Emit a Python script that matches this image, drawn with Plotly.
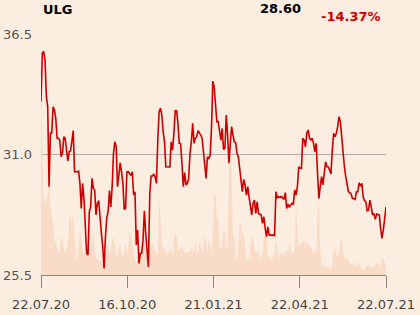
import plotly.graph_objects as go

# ---- data ----
ticker = "ULG"
last_price = "28.60"
change_pct = "-14.37%"

price = [
    33.41, 35.65, 35.69, 35.31, 33.64, 33.18, 29.53, 31.97, 31.97, 33.18,
    33.03, 32.65, 31.74, 31.74, 31.66, 30.90, 31.05, 31.81, 31.74, 31.20,
    30.71, 31.13, 31.16, 31.60, 32.09, 30.21, 30.20, 30.21, 30.24, 29.68,
    28.54, 29.68, 28.99, 27.55, 26.49, 26.41, 28.39, 28.61, 29.91, 29.45,
    29.38, 28.24, 28.77, 28.89, 27.86, 27.40, 26.79, 25.80, 27.25, 28.12,
    28.39, 29.35, 28.61, 29.53, 31.05, 31.58, 31.35, 29.53, 30.06, 30.62,
    30.21, 29.68, 28.49, 28.54,
    30.21, 30.21, 30.11, 30.06, 30.21, 29.15, 29.30, 26.87, 27.55, 26.03,
    26.49, 26.49, 27.09, 28.43, 27.40, 26.49, 25.87, 29.15, 30.02, 30.02,
    30.09, 29.99, 29.68, 31.66, 32.95, 33.11, 32.80, 32.04, 31.58, 30.44,
    30.44, 30.43, 30.43, 31.58, 31.20, 31.97, 33.00, 33.00, 32.42, 31.51,
    31.50, 30.60, 29.53, 30.17, 29.61, 29.68, 29.91, 31.05, 31.58, 32.42,
    31.51, 31.74, 31.81, 32.09, 32.00, 31.89, 31.74, 30.90, 30.52, 29.91,
    30.90, 30.82,
    30.95, 32.20, 34.35, 34.09, 33.18, 32.50, 32.50, 31.97, 31.66, 32.19,
    31.23, 31.28, 32.80, 31.89, 30.60, 31.51, 32.27, 31.89, 31.58, 31.54,
    31.05, 30.90, 30.37, 29.83, 29.30, 29.86, 29.61, 29.15, 29.53, 29.07,
    28.69, 28.24, 28.77, 28.92, 28.31, 28.84, 28.31, 28.28, 28.24, 27.86,
    28.16, 27.63, 27.25, 27.70, 27.32, 27.34, 27.30, 27.33, 27.30, 29.30,
    29.03, 29.07, 29.04, 29.09, 28.99, 28.95, 29.26, 28.54, 28.74, 28.59,
    28.69, 28.77, 28.74, 29.38, 29.15, 29.53, 30.44, 30.37,
    30.37, 31.74, 31.66, 31.35, 31.97, 32.12, 31.74, 31.66, 31.74, 31.51,
    31.13, 31.51, 30.14, 28.99, 29.53, 29.99, 29.61, 30.29, 30.67, 30.44,
    30.43, 30.29, 30.11, 31.20, 31.97, 31.81, 31.97, 32.27, 32.73, 32.50,
    31.74, 31.20, 30.44, 29.99, 29.53, 29.30, 29.26, 29.20, 28.99, 28.99,
    28.95, 29.30, 29.30, 29.71, 29.56, 29.68, 29.07, 28.89, 28.84, 28.43,
    28.46, 28.92, 28.61, 28.24, 28.31, 28.04, 28.28, 28.24, 28.24, 27.63,
    27.17, 27.55, 28.16, 28.60,
]

volume = [
    177, 120, 75, 72, 75, 80, 92, 70, 58, 55,
    35, 32, 28, 22, 25, 38, 36, 25, 22, 27,
    30, 55, 62, 50, 63, 35, 18, 15, 30, 43,
    40, 25, 22, 20, 25, 25, 26, 24, 35, 45,
    25, 17, 16, 15, 14, 15, 13, 12, 20, 25,
    32, 22, 25, 35, 38, 30, 18, 18, 28, 32,
    20, 20, 22, 32, 22, 28, 43, 40, 28, 20,
    15, 14, 15, 20, 22, 20, 30, 35, 20, 20,
    22, 25, 28, 33, 25, 25, 22, 20, 75, 60,
    28, 28, 27, 22, 20, 22, 25, 25, 18, 38,
    42, 38, 30, 23, 28, 28, 26, 22, 23, 23,
    23, 24, 28, 26, 22, 32, 24, 22, 32, 30,
    20, 30, 38, 36, 22, 35, 30, 18, 40, 83,
    80, 58, 55, 28, 26, 35, 45, 42, 25, 30,
    100, 118, 100, 42, 38, 17, 15, 25, 55, 50,
    40, 42, 25, 17, 15, 17, 28, 38, 36, 25,
    23, 22, 23, 17, 17, 20, 35, 45, 40, 18,
    17, 18, 12, 20, 22, 35, 30, 15, 22, 20,
    22, 18, 23, 25, 22, 30, 28, 20, 22, 25,
    78, 40, 30, 28, 33, 35, 32, 35, 30, 32,
    30, 28, 25, 22, 25, 20, 60, 75, 25, 10,
    8, 10, 8, 7, 8, 7, 7, 10, 25, 30,
    18, 20, 22, 32, 38, 25, 18, 16, 18, 14,
    12, 10, 12, 10, 9, 10, 12, 12, 8, 5,
    4, 5, 8, 10, 9, 10, 6, 8, 7, 9,
    12, 11, 12, 8, 17, 16, 12, 10,
]

tick_labels = ["22.07.20", "16.10.20", "21.01.21", "22.04.21", "22.07.21"]
y_ticks = [25.5, 31.0, 36.5]
y_tick_text = ["25.5", "31.0", "36.5"]

# ---- figure ----
n = len(price)
idx = list(range(n))
vol = volume[:n] + [volume[-1]] * max(0, n - len(volume))
tick_pos = [(n - 1) * k / (len(tick_labels) - 1) for k in range(len(tick_labels))]

BG = "#fcede1"
RED = "#cc0000"
FONT = "DejaVu Sans"

fig = go.Figure()
fig.add_trace(go.Scatter(
    x=idx, y=vol, yaxis="y", mode="lines",
    line=dict(width=0, color="#f7dbc5"), fill="tozeroy", fillcolor="#f8dcc7",
    hoverinfo="skip", showlegend=False,
))
fig.add_trace(go.Scatter(
    x=idx, y=price, yaxis="y2", mode="lines",
    line=dict(color=RED, width=1.6), showlegend=False,
))

fig.update_layout(
    width=420, height=315,
    margin=dict(l=41, r=34, t=34, b=40, autoexpand=False),
    paper_bgcolor=BG, plot_bgcolor=BG,
    font=dict(family=FONT, size=13, color="#555555"),
    xaxis=dict(
        range=[0, n - 1], tickvals=tick_pos, ticktext=tick_labels,
        showgrid=False, zeroline=False, automargin=False,
        showline=True, linecolor="#8a8580", linewidth=1,
        ticks="outside", ticklen=12, tickcolor="#8a8580", tickwidth=1,
        ticklabelstandoff=5,
        tickfont=dict(size=13, color="#444444"),
    ),
    yaxis=dict(
        range=[0, 241], visible=False, showgrid=False, zeroline=False,
        automargin=False,
    ),
    yaxis2=dict(
        overlaying="y", side="left", range=[25.5, 36.5],
        tickvals=y_ticks, ticktext=y_tick_text,
        showgrid=True, gridcolor="#b5aea8", gridwidth=1,
        zeroline=False, showline=False, ticks="", automargin=False,
        ticklabelstandoff=8,
        tickfont=dict(size=13, color="#555555"),
    ),
    annotations=[
        dict(text=f"<b>{ticker}</b>", xref="paper", yref="paper",
             x=0, y=1 + (34 - 10) / 241, xanchor="left", yanchor="middle",
             showarrow=False, font=dict(family=FONT, size=13, color="#000000")),
        dict(text=f"<b>{last_price}</b>", xref="paper", yref="paper",
             x=(303 - 41) / 345, y=1 + (34 - 9) / 241, xanchor="right", yanchor="middle",
             showarrow=False, font=dict(family=FONT, size=13, color="#000000")),
        dict(text=f"<b>{change_pct}</b>", xref="paper", yref="paper",
             x=(383 - 41) / 345, y=1 + (34 - 16) / 241, xanchor="right", yanchor="middle",
             showarrow=False, font=dict(family=FONT, size=13, color=RED)),
    ],
)

fig.write_html("out.html")
